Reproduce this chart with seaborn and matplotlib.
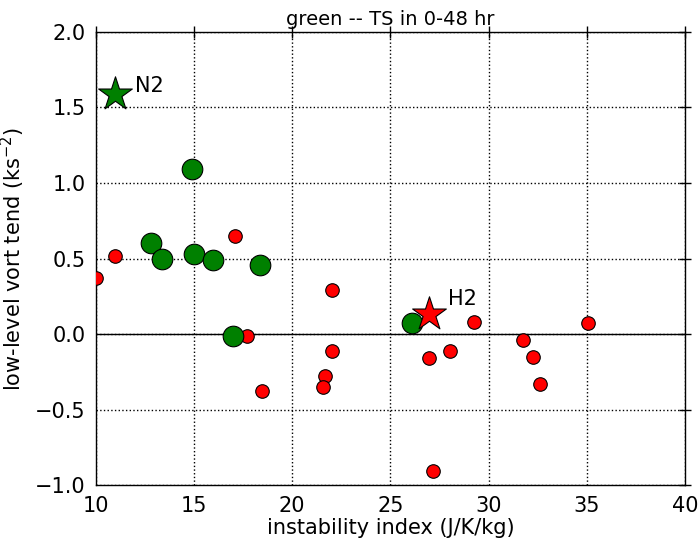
import pandas as pd
import matplotlib
matplotlib.use("Agg")
import matplotlib.pyplot as plt
import seaborn as sns

# TS within 0-48 hr (green) vs not (red)
green_x = [14.9, 12.8, 13.35, 15.0, 15.95, 18.35, 17.0, 26.1]
green_y = [1.09, 0.60, 0.50, 0.53, 0.49, 0.46, -0.01, 0.07]
red_x = [10.0, 11.0, 17.1, 17.7, 18.45, 22.05, 22.05, 21.65, 21.55,
         26.95, 27.15, 28.05, 29.25, 31.75, 32.25, 32.6, 35.05]
red_y = [0.37, 0.52, 0.65, -0.01, -0.38, 0.29, -0.11, -0.28, -0.35,
         -0.16, -0.91, -0.11, 0.08, -0.04, -0.15, -0.33, 0.07]
star_names = ["N2", "H2"]
star_x = [11.0, 26.95]
star_y = [1.59, 0.13]
star_colors = ["green", "red"]
yticks = [-1.0, -0.5, 0.0, 0.5, 1.0, 1.5, 2.0]
ytick_labels = ["\u22121.0", "\u22120.5", "0.0", "0.5", "1.0", "1.5", "2.0"]

green = pd.DataFrame({"x": green_x, "y": green_y})
red = pd.DataFrame({"x": red_x, "y": red_y})

sns.set_style("white")
plt.rcParams["font.family"] = ["DejaVu Sans"]
for k in ["text.color", "axes.labelcolor", "xtick.color", "ytick.color"]:
    plt.rcParams[k] = "black"

fig = plt.figure(figsize=(6.99, 5.42), dpi=100)
ax = fig.add_axes([0.137, 0.105, 0.843, 0.836])

ax.axhline(0, color="black", lw=1, zorder=1)
sns.scatterplot(data=red, x="x", y="y", color="red", s=95, edgecolor="black",
                linewidth=0.8, ax=ax, zorder=3)
sns.scatterplot(data=green, x="x", y="y", color="green", s=220, edgecolor="black",
                linewidth=0.8, ax=ax, zorder=3)
label_offsets = {"N2": (14, 6), "H2": (14, 11)}
for name, sx, sy, c in zip(star_names, star_x, star_y, star_colors):
    ax.scatter(sx, sy, marker="*", s=650, color=c, edgecolor="black",
               linewidth=0.8, zorder=4)
    ax.annotate(name, (sx, sy), xytext=label_offsets[name], textcoords="offset points",
                fontsize=15, va="center")

ax.set_xlim(10, 40)
ax.set_ylim(-1.0, 2.0)
ax.set_xticks(range(10, 41, 5))
ax.set_yticks(yticks)
ax.set_yticklabels(ytick_labels)
ax.grid(True, color="black", linestyle=":", linewidth=1)
ax.tick_params(direction="inout", top=True, right=True, length=9, width=1,
               labelsize=15, pad=3)
for sp in ax.spines.values():
    sp.set_color("black")
    sp.set_linewidth(1)
ax.set_xlabel("instability index (J/K/kg)", fontsize=15, labelpad=2)
ax.set_ylabel("low-level vort tend (ks$^{-2}$)", fontsize=15)
ax.yaxis.set_label_coords(-0.116, 0.5)

ax.text(0.5, 1.016, "green -- TS in 0-48 hr", transform=ax.transAxes,
        ha="center", va="baseline", fontsize=14)

fig.savefig("out.png", dpi=100)
